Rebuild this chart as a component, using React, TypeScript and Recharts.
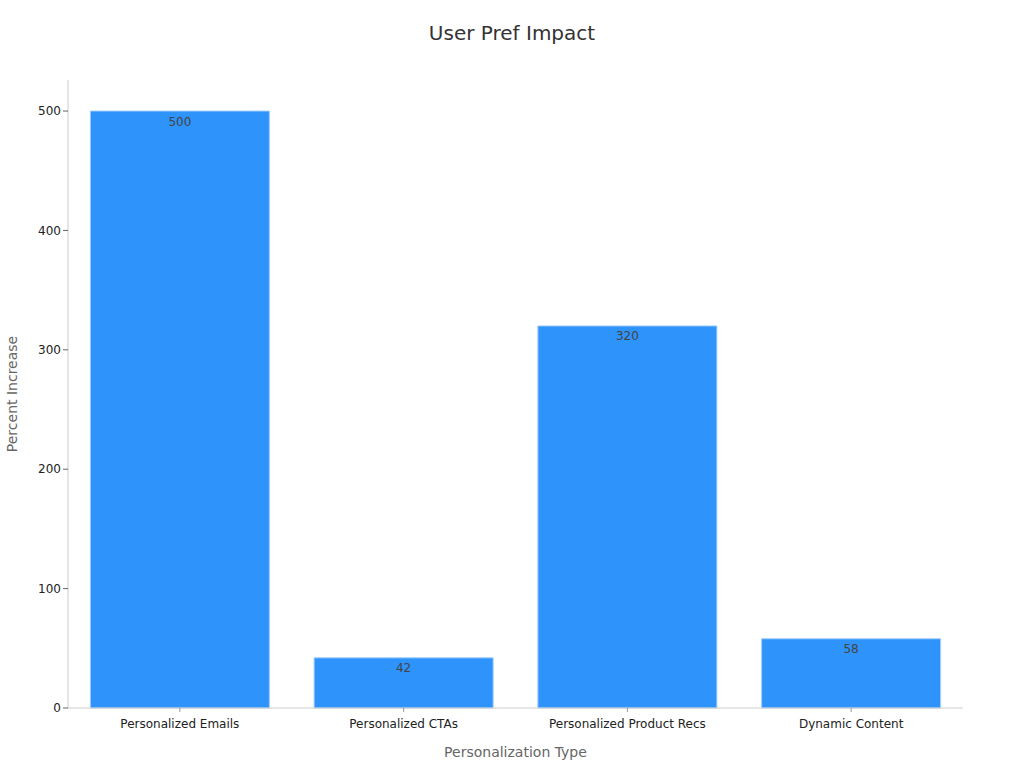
import React from 'react';
import { BarChart, Bar, XAxis, YAxis, LabelList, Label } from 'recharts';

// categories and values
const categories = ['Personalized Emails', 'Personalized CTAs', 'Personalized Product Recs', 'Dynamic Content'];
const percentIncrease = [500, 42, 320, 58];
const yTicks = [0, 100, 200, 300, 400, 500];

const data = categories.map((name, i) => ({ name, value: percentIncrease[i] }));

const FONT = '"DejaVu Sans", Verdana, sans-serif';

export default function App() {
  return (
    <div style={{ position: 'absolute', left: 0, top: 0, width: 1024, height: 768, background: '#fff', fontFamily: FONT }}>
      <div style={{ position: 'absolute', top: 21, width: 1024, textAlign: 'center', fontSize: 20, color: '#333' }}>
        User Pref Impact
      </div>
      <BarChart
        width={1024}
        height={768}
        data={data}
        margin={{ top: 80, right: 61, bottom: 0, left: 0 }}
        barCategoryGap="10%"
      >
        <XAxis
          dataKey="name"
          height={60}
          tick={{ fill: '#222', fontSize: 12, fontFamily: FONT, dy: 5 }}
          tickLine={{ stroke: '#999' }}
          tickSize={4}
          axisLine={{ stroke: '#ccc' }}
        >
          <Label value="Personalization Type" position="insideBottom" offset={11} style={{ fill: '#666', fontSize: 14, fontFamily: FONT }} />
        </XAxis>
        <YAxis
          width={68}
          domain={[0, 526]}
          ticks={yTicks}
          tick={{ fill: '#222', fontSize: 12, fontFamily: FONT }}
          tickLine={{ stroke: '#666' }}
          tickSize={5}
          axisLine={{ stroke: '#ccc' }}
        >
          <Label value="Percent Increase" angle={-90} position="insideLeft" offset={12} style={{ fill: '#666', fontSize: 14, fontFamily: FONT, textAnchor: 'middle' }} />
        </YAxis>
        <Bar dataKey="value" fill="#2E93FA" stroke="#9fcdfb" strokeWidth={1} isAnimationActive={false}>
          <LabelList dataKey="value" position="insideTop" offset={6} style={{ fill: '#444', fontSize: 12, fontFamily: FONT }} />
        </Bar>
      </BarChart>
    </div>
  );
}
